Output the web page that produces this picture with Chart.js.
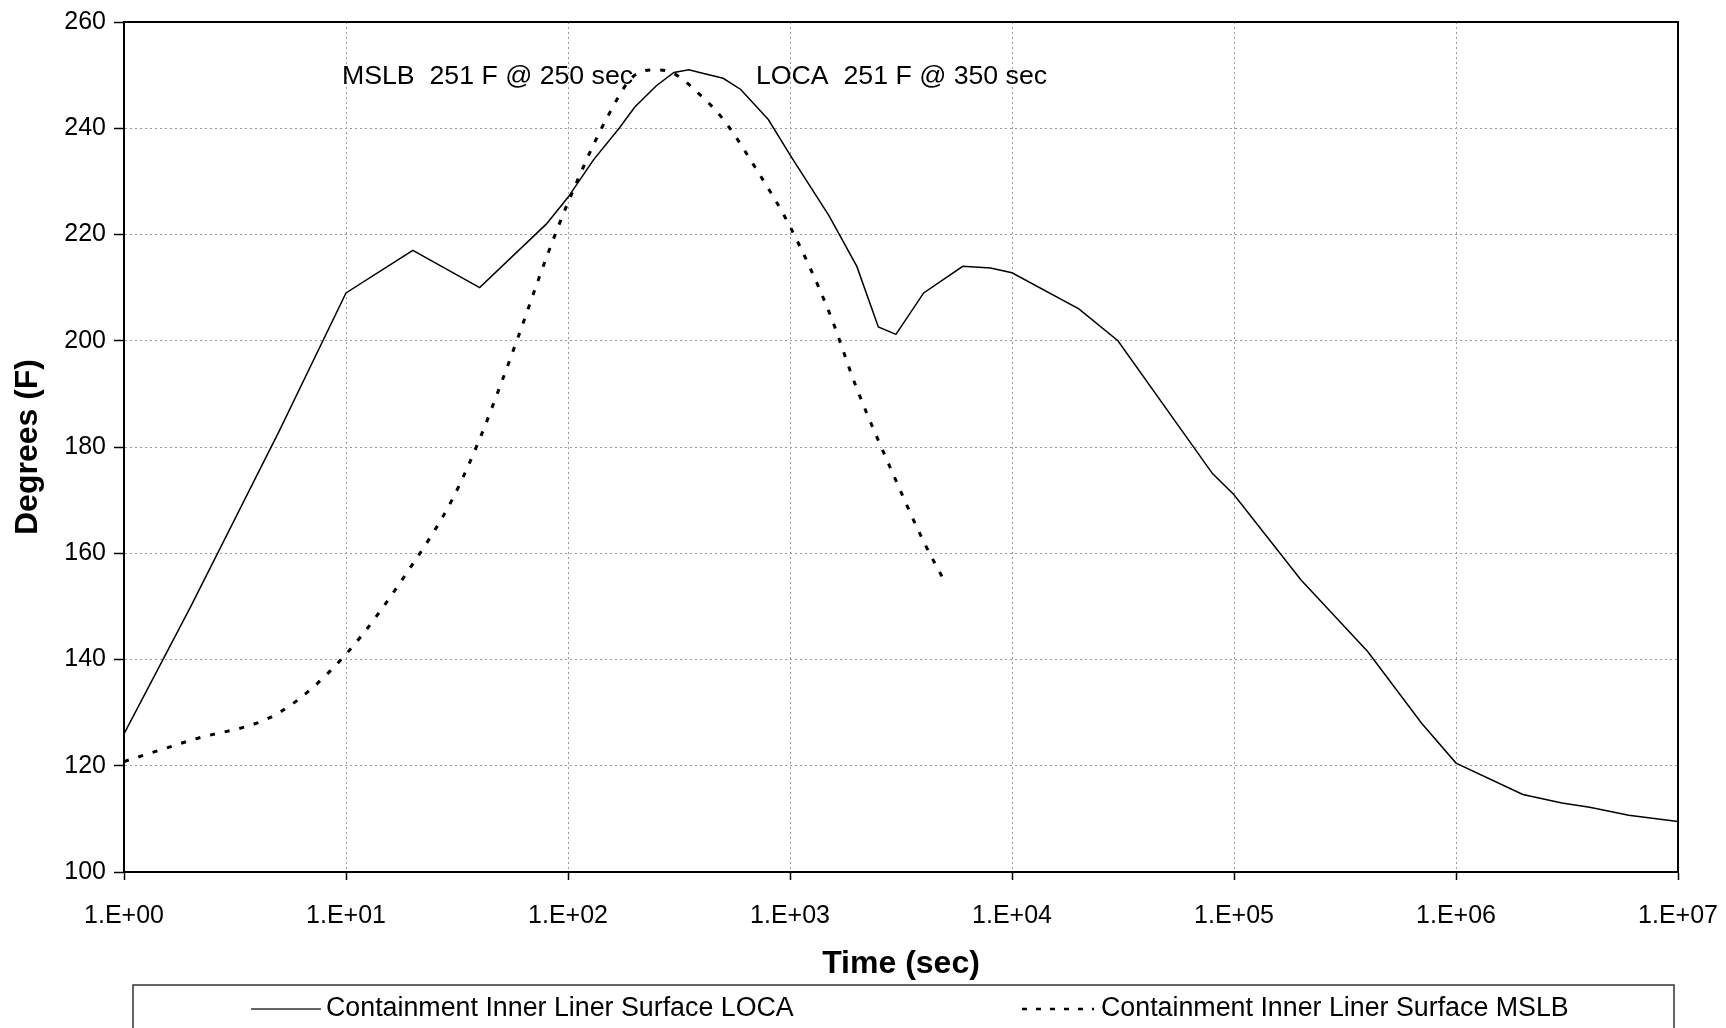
<!DOCTYPE html>
<html>
<head>
<meta charset="utf-8">
<script src="https://cdn.jsdelivr.net/npm/chart.js@4/dist/chart.umd.min.js"></script>
<style>
  html, body { margin: 0; padding: 0; background: #fff; }
  canvas { display: block; }
</style>
</head>
<body>
<canvas id="c" width="1726" height="1028"></canvas>
<script>
// ── DATA ─────────────────────────────────────────────────────────────────
const locaTime = [1, 2, 5, 10, 20, 40, 80, 100, 130, 170, 200, 250, 300, 350, 400, 500, 600, 800, 1000, 1500, 2000, 2500, 3000, 4000, 6000, 8000, 10000, 20000, 30000, 80000, 100000, 200000, 400000, 700000, 1000000, 2000000, 3000000, 4000000, 6000000, 10000000];
const locaTemp = [126, 150, 183, 209, 217, 210, 222, 227, 234, 240, 244, 248, 250.5, 251, 250.4, 249.4, 247.3, 241.6, 235, 223.5, 214, 202.6, 201.2, 209, 214, 213.7, 212.8, 206, 200, 175, 171, 155, 141.5, 128, 120.5, 114.6, 113, 112.2, 110.7, 109.5];

const mslbTime = [1, 2, 5, 10, 20, 30, 40, 50, 60, 80, 100, 150, 200, 250, 300, 400, 500, 700, 1000, 1500, 2000, 3000, 4000, 5000];
const mslbTemp = [120.8, 124.8, 130, 141, 158, 170, 181.5, 192, 201, 215.7, 226, 242, 250, 251, 250.3, 246, 241.7, 232.5, 221.5, 205.4, 191, 173.7, 162.2, 154.5];

const xTickValues = [1, 10, 100, 1000, 10000, 100000, 1000000, 10000000];
const xTickLabels = ['1.E+00', '1.E+01', '1.E+02', '1.E+03', '1.E+04', '1.E+05', '1.E+06', '1.E+07'];

const seriesNames = ['Containment Inner Liner Surface LOCA', 'Containment Inner Liner Surface MSLB'];
const notes = ['MSLB  251 F @ 250 sec', 'LOCA  251 F @ 350 sec'];

const FONT = 'Arial, "Liberation Sans", sans-serif';
const toPts = (xs, ys) => xs.map((x, i) => ({ x, y: ys[i] }));

// ── EXTRA DRAWING: frame, notes, boxed legend ────────────────────────────
const extras = {
  id: 'extras',
  afterDraw(chart) {
    const { ctx, chartArea: a } = chart;
    ctx.save();
    // plot frame
    ctx.strokeStyle = '#000';
    ctx.lineWidth = 2;
    ctx.strokeRect(a.left, a.top, a.right - a.left, a.bottom - a.top);

    // peak notes
    ctx.fillStyle = '#000';
    ctx.font = '26.7px ' + FONT;
    ctx.textBaseline = 'middle';
    ctx.textAlign = 'left';
    ctx.fillText(notes[0], 342, 77);
    ctx.fillText(notes[1], 756, 77);

    // legend box
    ctx.strokeStyle = '#333';
    ctx.lineWidth = 1.5;
    ctx.strokeRect(133, 985, 1541, 80);
    const ly = 1009;
    ctx.lineWidth = 1.6;
    ctx.beginPath(); ctx.moveTo(251, ly); ctx.lineTo(321, ly); ctx.stroke();
    ctx.strokeStyle = '#000';
    ctx.lineWidth = 2.5;
    ctx.setLineDash([5, 9]);
    ctx.beginPath(); ctx.moveTo(1022, ly); ctx.lineTo(1094, ly); ctx.stroke();
    ctx.setLineDash([]);
    ctx.font = '26.8px ' + FONT;
    ctx.fillText(seriesNames[0], 326, ly);
    ctx.fillText(seriesNames[1], 1101, ly);
    ctx.restore();
  }
};

// ── CHART ────────────────────────────────────────────────────────────────
const gridOpts = { color: '#999', lineWidth: 1, tickColor: '#000', tickBorderDash: [], tickWidth: 1.5 };
const borderOpts = { color: '#000', width: 2, dash: [2, 3] };

new Chart(document.getElementById('c'), {
  type: 'line',
  data: {
    datasets: [
      {
        label: seriesNames[0],
        data: toPts(locaTime, locaTemp),
        borderColor: '#000', borderWidth: 1.5, pointRadius: 0, tension: 0, fill: false,
      },
      {
        label: seriesNames[1],
        data: toPts(mslbTime, mslbTemp),
        borderColor: '#000', borderWidth: 3, borderDash: [5, 10], borderCapStyle: 'butt',
        pointRadius: 0, cubicInterpolationMode: 'monotone', fill: false,
      },
    ],
  },
  options: {
    responsive: false, animation: false, devicePixelRatio: 1,
    layout: { padding: { left: 0, right: 48, top: 22, bottom: 43 } },
    plugins: { legend: { display: false }, tooltip: { enabled: false } },
    scales: {
      x: {
        type: 'logarithmic', min: 1, max: 10000000,
        afterBuildTicks: s => { s.ticks = xTickValues.map(v => ({ value: v })); },
        afterFit: s => { s.height = 113; s.paddingLeft = 0; s.paddingRight = 0; },
        ticks: {
          autoSkip: false, maxRotation: 0, color: '#000', padding: 21,
          font: { family: FONT, size: 25 },
          callback: (v, i) => xTickLabels[i],
        },
        grid: { ...gridOpts, tickLength: 8 },
        border: borderOpts,
        title: { display: true, text: 'Time (sec)', color: '#000', font: { family: FONT, size: 32, weight: 'bold' }, padding: { top: 0, bottom: 2 } },
      },
      y: {
        min: 100, max: 260,
        afterFit: s => { s.width = 124; s.paddingTop = 0; s.paddingBottom = 0; },
        ticks: { stepSize: 20, color: '#000', padding: 8, font: { family: FONT, size: 25 } },
        grid: { ...gridOpts, tickLength: 10 },
        border: borderOpts,
        title: { display: true, text: 'Degrees (F)', color: '#000', font: { family: FONT, size: 32, weight: 'bold' }, padding: { top: 9, bottom: 0 } },
      },
    },
  },
  plugins: [extras],
});
</script>
</body>
</html>
